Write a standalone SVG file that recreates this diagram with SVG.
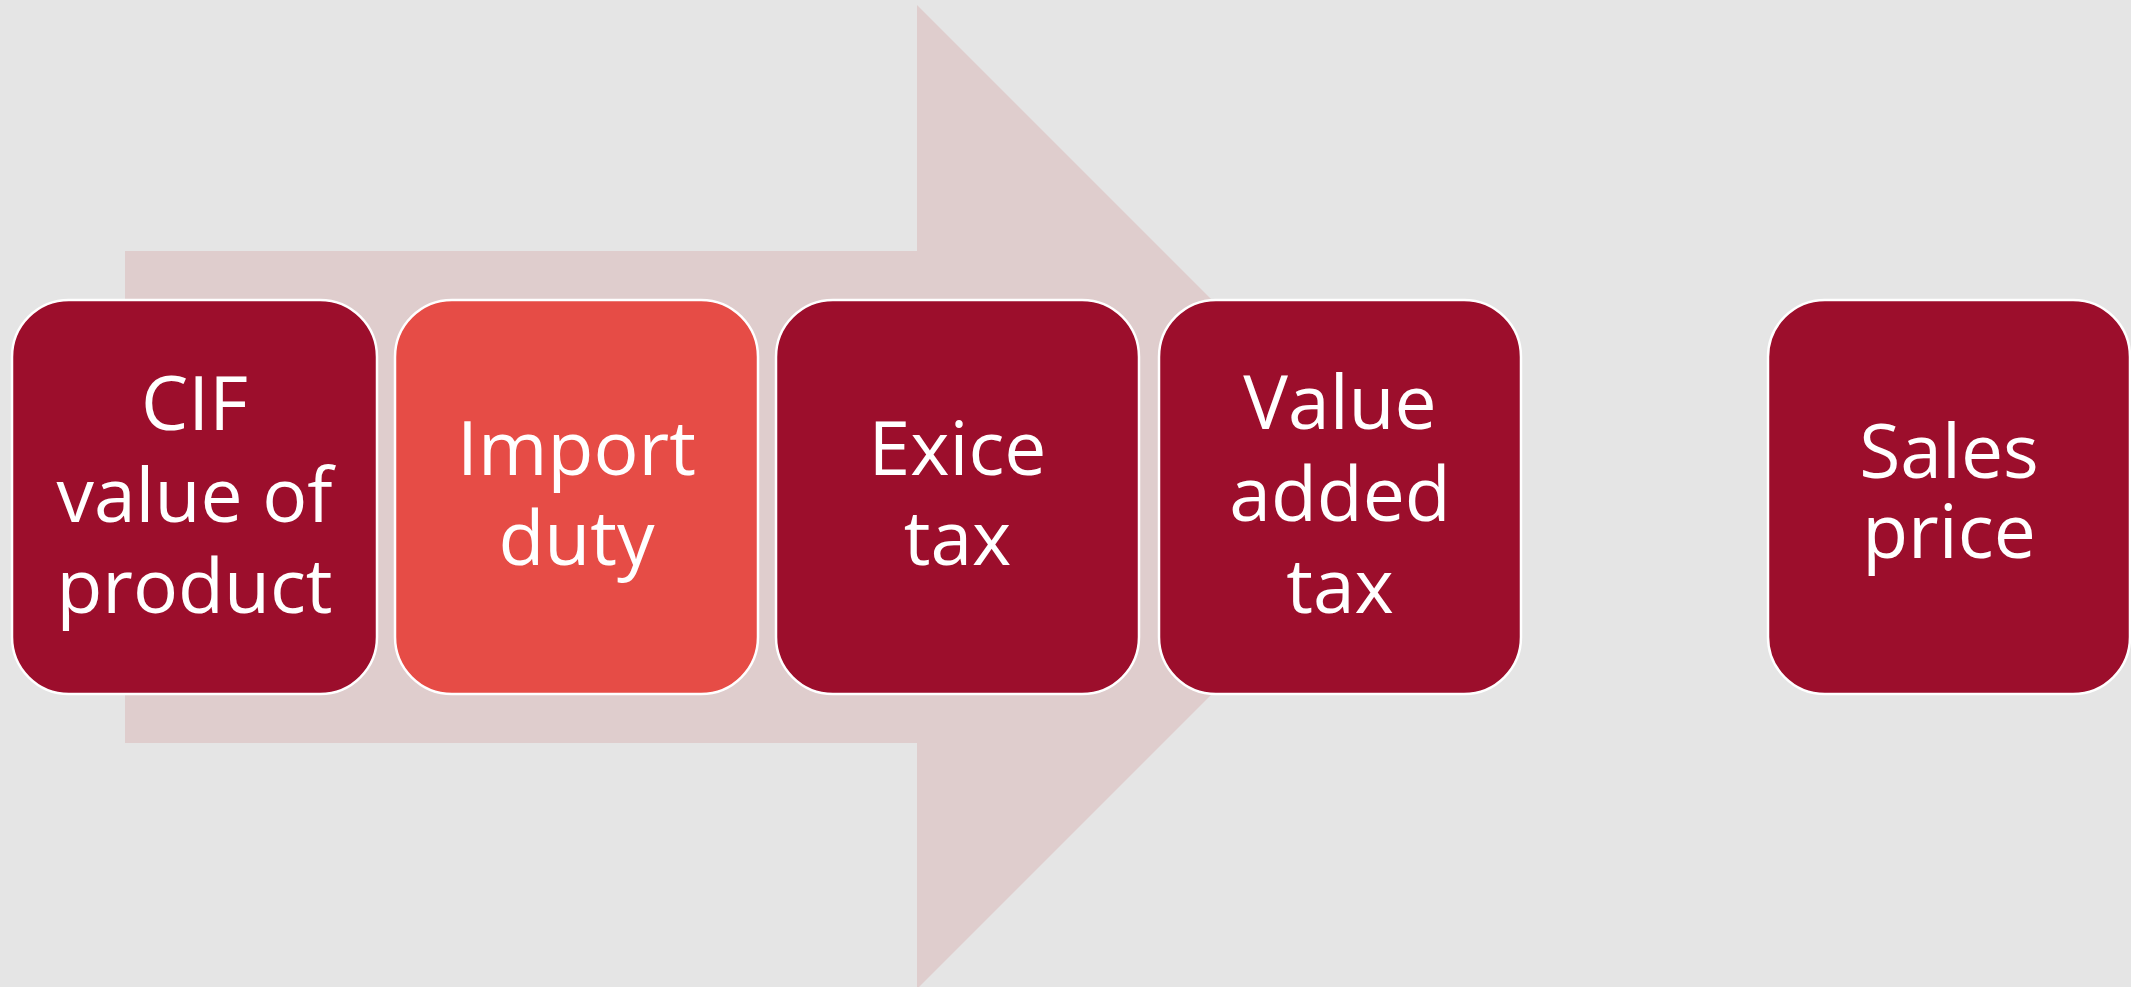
<svg xmlns="http://www.w3.org/2000/svg" width="2131" height="987" viewBox="0 0 2131 987">
<style>
.bg{fill:#e5e5e5}
.arrow{fill:#dfcdcd}
.box{stroke:#ffffff;stroke-width:2.5}
.dark{fill:#9c0e2c}
.light{fill:#e64c46}
.lbl{font-family:"Open Sans","Noto Sans","Liberation Sans",sans-serif;font-size:75px;fill:#ffffff;text-anchor:middle}
</style>
<rect class="bg" x="0" y="0" width="2131" height="987"/>
<g id="connectors">
<polygon class="arrow" points="125,251 917,251 917,5 1409,497 917,989 917,743 125,743"/>
</g>
<g id="node-cif">
<rect class="box dark" x="12" y="300" width="365" height="394" rx="57" ry="57"/>
<text class="lbl"><tspan x="194.5" y="430">CIF</tspan><tspan x="194.5" y="522">value of</tspan><tspan x="194.5" y="613">product</tspan></text>
</g>
<g id="node-import">
<rect class="box light" x="395" y="300" width="363" height="394" rx="57" ry="57"/>
<text class="lbl"><tspan x="576.5" y="475">Import</tspan><tspan x="576.5" y="565">duty</tspan></text>
</g>
<g id="node-excise">
<rect class="box dark" x="776" y="300" width="363" height="394" rx="57" ry="57"/>
<text class="lbl"><tspan x="957.5" y="475">Exice</tspan><tspan x="957.5" y="565">tax</tspan></text>
</g>
<g id="node-vat">
<rect class="box dark" x="1159" y="300" width="362" height="394" rx="57" ry="57"/>
<text class="lbl"><tspan x="1340" y="429">Value</tspan><tspan x="1340" y="521">added</tspan><tspan x="1340" y="613">tax</tspan></text>
</g>
<g id="node-sales">
<rect class="box dark" x="1768" y="300" width="362" height="394" rx="57" ry="57"/>
<text class="lbl"><tspan x="1949" y="478">Sales</tspan><tspan x="1949" y="558">price</tspan></text>
</g>
</svg>
